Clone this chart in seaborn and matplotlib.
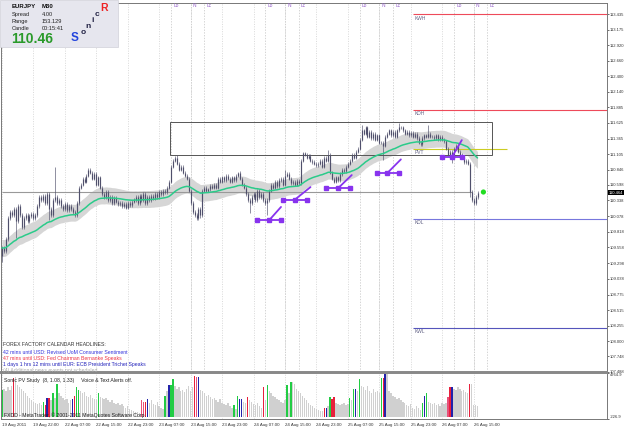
import numpy as np
import pandas as pd
import seaborn as sns
import matplotlib.pyplot as plt
from matplotlib.patches import Rectangle

sns.set_style("white")
plt.rcParams['font.family'] = ['Liberation Sans', 'DejaVu Sans']

# EURJPY M30 closes (one per bar)
closes = [
    109.55, 109.50, 109.70, 110.05, 110.15, 110.10, 110.20, 110.00, 110.25, 110.10,
    109.90, 110.05, 110.10, 110.00, 110.08, 110.12, 110.05, 110.10,
    110.25, 110.40, 110.35, 110.42, 110.30, 110.45, 110.20, 110.10, 110.35, 110.40,
    110.30, 110.35, 110.25, 110.20, 110.28, 110.18, 110.25, 110.20, 110.15, 110.10,
    110.30, 110.55, 110.60, 110.70, 110.65, 110.75, 110.85, 110.80, 110.70, 110.78,
    110.60, 110.72, 110.55, 110.45, 110.40, 110.48, 110.35, 110.40, 110.30, 110.38, 110.32,
    110.28, 110.30, 110.25, 110.28, 110.22, 110.30, 110.26, 110.32, 110.35, 110.40,
    110.30, 110.42, 110.35, 110.45, 110.30, 110.40, 110.35, 110.42, 110.38, 110.45,
    110.40, 110.48, 110.45, 110.50, 110.48, 110.55, 110.65,
    110.90, 111.00, 111.05, 110.95, 110.85, 110.90, 110.80, 110.75, 110.70, 110.50,
    110.30, 110.15, 110.10, 110.05, 110.20, 110.10, 110.50, 110.55, 110.50, 110.52,
    110.58, 110.55, 110.60, 110.55,
    110.70, 110.65, 110.72, 110.68, 110.75, 110.70, 110.65, 110.72, 110.68, 110.75,
    110.80, 110.70, 110.60, 110.55, 110.45, 110.35, 110.30, 110.40, 110.45, 110.35,
    110.50, 110.40, 110.45, 110.35, 110.30, 110.35, 110.50,
    110.60, 110.55, 110.65, 110.58, 110.68, 110.70, 110.60, 110.75, 110.78, 110.70,
    110.62, 110.65, 110.60, 110.66, 110.62, 111.00, 111.12, 111.10, 111.05, 111.08,
    111.00, 110.98, 110.95, 110.92, 110.95, 111.00, 110.90, 111.05, 111.00, 111.10,
    110.80, 110.70, 110.65, 110.72, 110.68, 110.78, 110.85, 110.82, 110.90, 110.95,
    111.00, 111.10, 111.05, 111.15, 111.20, 111.35, 111.50, 111.45, 111.55, 111.40,
    111.48, 111.38, 111.45, 111.35, 111.42, 111.30,
    111.30, 111.25, 111.40, 111.45, 111.50, 111.42, 111.48, 111.40, 111.50, 111.55,
    111.55, 111.50, 111.45, 111.48, 111.42, 111.46, 111.40, 111.44, 111.38, 111.30,
    111.28, 111.38, 111.42, 111.40, 111.45, 111.40,
    111.40, 111.38, 111.42, 111.36, 111.40, 111.35, 111.32, 111.20, 111.10, 111.15,
    111.05, 111.20, 111.25, 111.15, 111.10, 111.05, 110.98, 111.00, 110.95, 110.48,
    110.35, 110.30, 110.40, 110.46,
]
first_open = 109.42
spike_hi = {27: 110.89, 89: 111.09, 120: 110.81, 144: 110.84, 166: 111.18,
            183: 111.59, 202: 111.62, 217: 111.59, 238: 110.98}
spike_lo = {0: 109.31, 7: 109.72, 24: 110.01, 37: 110.06, 101: 110.04, 126: 110.13,
            135: 110.10, 194: 111.01, 229: 110.96, 238: 110.40, 240: 110.26}

volume = [
    2940, 3070, 2820, 3200, 2940, 3330, 4220, 4350, 3460, 3200,
    3070, 2820, 2560, 2300, 2050, 1790, 1660, 1540, 1410, 1540,
    1280, 1660, 1280, 2050, 2050, 1790, 2560, 2050, 3580, 2560,
    2300, 2050, 1790, 1920, 1540, 1790, 1920, 2300, 3200, 2940,
    2820, 2560, 2690, 2300, 2180, 2430, 2050, 1920, 1790, 2560,
    2180, 2050, 1920, 2050, 1790, 1660, 1790, 1540, 1410, 1540,
    1280, 1410, 1150, 1020, 1150, 900, 770, 640, 510, 510,
    380, 1790, 1660, 1660, 1920, 1540, 1790, 1410, 1280, 1660,
    1150, 1020, 900, 2300, 2820, 3460, 3460, 4100, 3330, 3070,
    3200, 2820, 2940, 2690, 3070, 3330, 2820, 3200, 4480, 4350,
    4350, 2940, 2820, 2560, 2300, 2430, 2180, 1920, 2050, 1790,
    1660, 1920, 1540, 1410, 1280, 1540, 1150, 1020, 1280, 900,
    2300, 1920, 1920, 1660, 1540, 2180, 1790, 1660, 1410, 1280,
    1540, 1150, 1020, 3200, 1790, 3460, 2820, 2560, 2300, 2180,
    1920, 1790, 1660, 1540, 1790, 3460, 2560, 3840, 3840, 3580,
    3070, 2820, 2560, 2300, 2050, 1790, 1540, 1280, 1150, 1020,
    900, 770, 640, 640, 1020, 1020, 1150, 2180, 1920, 2180,
    1540, 1410, 1280, 1410, 1540, 1280, 1410, 2050, 1790, 3070,
    3070, 2820, 4100, 3330, 3200, 2940, 3330, 2820, 2560, 3070,
    2690, 2820, 2560, 4220, 4220, 4740, 4740, 2820, 2560, 2300,
    2180, 1920, 2050, 1790, 1660, 1540, 1280, 1150, 1410, 1020,
    900, 1150, 1020, 770, 1540, 2300, 2560, 1660, 1540, 1410,
    1540, 1280, 1410, 1150, 1540, 1410, 1540, 2180, 3200, 3200,
    3070, 2940, 3200, 3070, 2820, 2940, 2690, 2560, 3580, 3580,
    1280, 1280, 1150,
]
# coloured PV bars (g=climax up, r=climax down, b=churn, m=rising), others grey
vol_marks = {0: 'g', 6: 'r', 21: 'g', 22: 'r', 23: 'b', 24: 'r', 26: 'g', 28: 'g',
             36: 'b', 37: 'r', 38: 'g', 39: 'g', 49: 'g', 71: 'm', 72: 'm', 73: 'r',
             74: 'b', 83: 'g', 85: 'b', 86: 'g', 87: 'g', 98: 'r', 99: 'm', 100: 'b',
             118: 'g', 120: 'g', 121: 'b', 122: 'b', 125: 'r', 133: 'r', 135: 'g',
             145: 'g', 147: 'g', 164: 'r', 165: 'b', 167: 'g', 168: 'r', 169: 'r',
             177: 'g', 179: 'g', 180: 'b', 182: 'g', 193: 'g', 194: 'r', 195: 'b',
             214: 'g', 215: 'b', 216: 'g', 227: 'm', 228: 'r', 229: 'b', 238: 'r'}

tick_labels = ['19 Aug 2011', '19 Aug 22:00', '22 Aug 07:00', '22 Aug 15:00',
               '22 Aug 23:00', '23 Aug 07:00', '23 Aug 15:00', '23 Aug 23:00',
               '24 Aug 07:00', '24 Aug 15:00', '24 Aug 23:00', '25 Aug 07:00',
               '25 Aug 15:00', '25 Aug 23:00', '26 Aug 07:00', '26 Aug 15:00']
tick_bars = [0, 16, 32, 48, 64, 80, 96, 112, 128, 144, 160, 176, 192, 208, 224, 240]
price_ticks = [113.435, 113.175, 112.920, 112.660, 112.400, 112.140, 111.885, 111.625,
               111.365, 111.105, 110.846, 110.598, 110.338, 110.078, 109.818, 109.558,
               109.298, 109.038, 108.775, 108.515, 108.255, 108.000, 107.748, 107.488]
price_tick_labels = ['113.435', '113.175', '112.920', '112.660', '112.400', '112.140',
                     '111.885', '111.625', '111.365', '111.105', '110.846', '110.598',
                     '110.338', '110.078', '109.818', '109.558', '109.298', '109.038',
                     '108.775', '108.515', '108.255', '108.000', '107.748', '107.488']

session_lo = [86, 134, 182, 230]
session_n = [96, 144, 192, 240]
session_lc = [103, 151, 199, 247]

level_names = ['KWH', 'KDH', 'PVT', 'KDL', 'KWL']
level_prices = [113.43, 111.84, 111.20, 110.03, 108.22]
level_colors = ['#ee4a5a', '#ee4a5a', '#cccc22', '#7777dd', '#5555bb']
level_end = [308, 308, 257, 308, 308]
level_start = 209

box_bars = (85.5, 249.4)
box_prices = (111.093, 111.641)
bid_price = 110.464
bid_line = 110.47

# sonic wave marks: base left / mid / right bar, base level, tip bar, tip price
wave_left = [130, 143, 165, 191, 224]
wave_mid = [136, 149, 171, 196, 229]
wave_right = [142, 155, 177, 202, 234]
wave_level = [110.01, 110.35, 110.54, 110.79, 111.06]
wave_tip_bar = [142, 157, 178, 203, 234]
wave_tip_price = [110.23, 110.56, 110.76, 111.02, 111.34]

news = ["42 mins until USD: Revised UoM Consumer Sentiment",
        "47 mins until USD: Fed Chairman Bernanke Speaks",
        "1 days 1 hrs 12 mins until EUR: ECB President Trichet Speaks",
        "(4) Additional news events not scheduled"]
news_colors = ['#3333dd', '#ee3344', '#2222bb', '#aaaaaa']

# ---- derived series
df = pd.DataFrame({'close': closes})
df['bar'] = np.arange(len(df))
df['open'] = df['close'].shift(1).fillna(first_open)
wick = 0.03
df['high'] = df[['open', 'close']].max(axis=1) + wick
df['low'] = df[['open', 'close']].min(axis=1) - wick
for b, v in spike_hi.items():
    df.loc[b, 'high'] = v
for b, v in spike_lo.items():
    df.loc[b, 'low'] = v
df['ma'] = df['close'].ewm(span=40, adjust=False).mean()
df['dragon'] = df['close'].ewm(span=34, adjust=False).mean()
band = 0.14

pal = {'g': '#22cc44', 'r': '#e8203c', 'b': '#2222aa', 'm': '#e8507a', 'n': '#d0d0d0'}
vcol = [pal[vol_marks.get(i, 'n')] for i in range(len(volume))]

# ---- figure
W, H = 625, 429
fig = plt.figure(figsize=(W / 100, H / 100), dpi=100)
ax = fig.add_axes([1 / W, 1 - 372 / H, 606 / W, 369 / H])
axv = fig.add_axes([1 / W, 1 - 419 / H, 606 / W, 46 / H])
xlim = (-0.5, 307.9)

ax.fill_between(df['bar'], df['dragon'] - band, df['dragon'] + band,
                color='#d6d6d6', lw=0, zorder=1)
ax.vlines(df['bar'], df['low'], df['high'], color='#50506c', lw=0.45, zorder=3)
ax.vlines(df['bar'], df[['open', 'close']].min(axis=1), df[['open', 'close']].max(axis=1),
          color='#50506c', lw=0.85, zorder=3)
sns.lineplot(data=df, x='bar', y='ma', color='#2bcb8a', lw=1.1, ax=ax, zorder=4)

for lo, n, lc in zip(session_lo, session_n, session_lc):
    for b, t in [(lo, 'Lo'), (n, 'N'), (lc, 'Lc')]:
        ax.axvline(b, color='#c4c4c4', lw=0.5, ls=(0, (2, 2)), zorder=0)
        ax.text(b + 1.2, 0.992, t, transform=ax.get_xaxis_transform(), fontsize=3.5,
                color='#9966cc', va='center', ha='left')

for name, p, c, e in zip(level_names, level_prices, level_colors, level_end):
    ax.hlines(p, level_start, e, color=c, lw=0.8, zorder=2)
    ax.text(level_start + 1, p - 0.02, name, fontsize=3.5, color='#666688',
            va='top', ha='left', zorder=2)

ax.add_patch(Rectangle((box_bars[0], box_prices[0]), box_bars[1] - box_bars[0],
                       box_prices[1] - box_prices[0], fill=False, ec='#555555',
                       lw=0.7, zorder=2))
ax.hlines(bid_line, 0, 239, color='#999999', lw=0.8, zorder=2)

for l, m, r, lev, tb, tp in zip(wave_left, wave_mid, wave_right, wave_level,
                                wave_tip_bar, wave_tip_price):
    ax.plot([l, r], [lev, lev], color='#8833ee', lw=1.3, zorder=5)
    ax.plot([m, tb], [lev, tp], color='#8833ee', lw=1.3, zorder=5)
    ax.plot([l, m, r], [lev, lev, lev], ls='none', marker='s', ms=2.2,
            color='#8833ee', zorder=5)

sns.scatterplot(x=[245], y=[110.478], color='#22dd22', s=14, ax=ax,
                edgecolor='none', zorder=6)

ax.set_xlim(xlim)
ax.set_ylim(107.488, 113.618)
ax.yaxis.tick_right()
ax.set_yticks(price_ticks)
ax.set_yticklabels(price_tick_labels)
ax.tick_params(axis='y', labelsize=3.0, length=1.5, width=0.5, pad=0.4,
               colors='#333333', direction='out')
ax.set_xticks(tick_bars)
ax.tick_params(axis='x', length=0, labelbottom=False)
ax.grid(axis='x', color='#cccccc', lw=0.5, ls=(0, (1.5, 2)))
ax.set_xlabel('')
ax.set_ylabel('')
for s in ax.spines.values():
    s.set_color('#777777')
    s.set_linewidth(0.7)
ax.spines['bottom'].set_linewidth(1.4)
ax.spines['bottom'].set_color('#888888')

ax.annotate('110.464', xy=(1.0, bid_price), xycoords=ax.get_yaxis_transform(),
            xytext=(1.2, 0), textcoords='offset points', ha='left', va='center',
            fontsize=3.0, color='white', annotation_clip=False,
            bbox=dict(boxstyle='square,pad=0.12', fc='black', ec='none'))

# ---- PV study panel
axv.bar(np.arange(len(volume)), volume, width=0.7, color=vcol, lw=0, zorder=2)
axv.set_xlim(xlim)
axv.set_ylim(-226.9, 4764.9)
axv.yaxis.tick_right()
axv.set_yticks([4764.9, -226.9])
axv.set_yticklabels(['4764.9', '-226.9'])
axv.tick_params(axis='y', labelsize=3.0, length=1.5, width=0.5, pad=0.4, colors='#333333')
labs = axv.get_yticklabels()
labs[0].set_va('top')
labs[1].set_va('bottom')
axv.set_xticks(tick_bars)
axv.set_xticklabels(tick_labels)
axv.tick_params(axis='x', labelsize=3.2, length=2, width=0.5, pad=0.8, colors='#333333',
                direction='out')
for t in axv.get_xticklabels():
    t.set_ha('left')
axv.grid(axis='x', color='#cccccc', lw=0.5, ls=(0, (1.5, 2)))
for s in axv.spines.values():
    s.set_color('#777777')
    s.set_linewidth(0.7)
axv.spines['top'].set_linewidth(1.4)
axv.spines['top'].set_color('#888888')
axv.text(0.005, 0.84, 'Sonic PV Study  (8, 1.08, 1.33)     Voice & Text Alerts off.',
         transform=axv.transAxes, fontsize=3.7, color='#222222', va='center', zorder=5)
axv.text(0.005, 0.09, 'FXDD - MetaTrader, \u00a9 2001-2011 MetaQuotes Software Corp.',
         transform=axv.transAxes, fontsize=3.7, color='#222222', va='center', zorder=5)

# ---- overlay: info box and news block (pixel coordinates)
ov = fig.add_axes([0, 0, 1, 1], zorder=10)
ov.set_xlim(0, W)
ov.set_ylim(H, 0)
ov.axis('off')
ov.add_patch(Rectangle((0, 0), 118, 47, fc='#e6e6ee', ec='#d0d0d8', lw=0.5))
ov.text(12, 6, 'EURJPY', fontsize=4.3, weight='bold', color='#111111', va='center')
ov.text(42, 6, 'M30', fontsize=4.3, weight='bold', color='#111111', va='center')
for yy, k, v in [(14.5, 'Spread', '4.00'), (21.5, 'Range', '153.129'),
                 (28.5, 'Candle', '00:15:41')]:
    ov.text(12, yy, k, fontsize=4.1, color='#222222', va='center')
    ov.text(42, yy, v, fontsize=4.1, color='#222222', va='center')
ov.text(11, 39, '110.46', fontsize=10, weight='bold', color='#2a9a2a', va='center')
for ch, x, y, fs, c in [('S', 75, 38, 8.5, '#2244dd'), ('o', 83, 32.5, 6, '#222244'),
                        ('n', 88, 26, 6, '#222244'), ('i', 92.5, 20, 6, '#222244'),
                        ('c', 97, 14, 6, '#222244'), ('R', 104, 8, 7.5, '#ee2222')]:
    ov.text(x, y, ch, fontsize=fs, weight='bold', color=c, va='center', ha='center')

ov.text(3, 345, 'FOREX FACTORY CALENDAR HEADLINES:', fontsize=3.7, color='#333333',
        va='center')
for i, (line, c) in enumerate(zip(news, news_colors)):
    ov.text(3, 352.5 + i * 5.9, line, fontsize=3.7, color=c, va='center')

fig.savefig('out.png', dpi=100)
